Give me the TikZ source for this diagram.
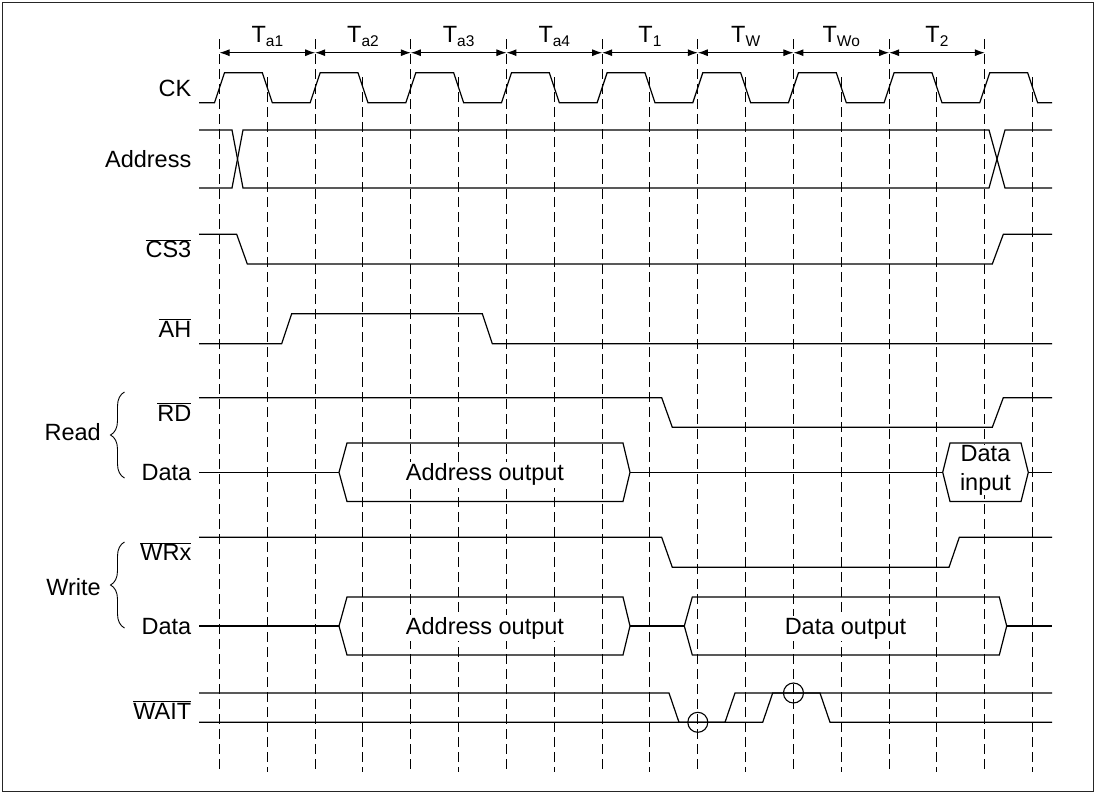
\documentclass[tikz,border=0pt]{standalone}
\usepackage{fontspec}
\setmainfont{Liberation Sans}
\usetikzlibrary{arrows.meta,decorations.pathreplacing}

\newcommand{\tx}[1]{219.5+47.83*(#1)}
\newcommand{\ovl}[1]{$\overline{\mbox{#1}}$}
\newcommand{\Tlab}[1]{T\raisebox{-3.3pt}{\fontsize{15.5}{16}\selectfont #1}}

\begin{document}
\begin{tikzpicture}[
      x=1pt, y=-1pt,
      wave/.style  = {line width=1.2pt, line join=miter},
      guide/.style = {line width=1pt, dash pattern=on 10pt off 5pt},
      arrow/.style = {{Latex[length=10pt,width=7pt]}-{Latex[length=10pt,width=7pt]},
                      line width=1pt},
      curly/.style = {decorate, decoration={brace, amplitude=14pt},
                      line width=0.9pt},
      sig/.style   = {anchor=base east},
      label/.style = {fill=white, inner sep=2pt},
      every node/.style = {font=\fontsize{23.5}{29}\selectfont, inner sep=0pt}
    ]
    \useasboundingbox (0,0) rectangle (1098,793);
    \draw[line width=1.2pt, black!85] (2.5,2.5) rectangle (1093.5,791.5);

    % guide lines and periods
    \foreach \i in {0,2,...,16}
      \draw[guide] ({\tx{\i}},39) -- ({\tx{\i}},770);
    \foreach \i in {1,3,...,17}
      \draw[guide] ({\tx{\i}},77) -- ({\tx{\i}},772);
    \foreach \k in {0,...,8}
      \coordinate (p\k) at ({\tx{2*\k}},52.7);
    \foreach \k/\lab in {0/a1,1/a2,2/a3,3/a4,4/1,5/W,6/Wo,7/2}{
      \pgfmathtruncatemacro{\n}{\k+1}
      \draw[arrow] (p\k) -- (p\n);
      \node[anchor=base] (per\k) at ({\tx{2*\k+1}},42.7) {\Tlab{\lab}};
    }

    % signal names
    \node[sig] (ck)   at (191.5,96.2)  {CK};
    \node[sig] (addr) at (191.5,167.3) {Address};
    \node[sig] (cs)   at (191.5,257.7) {\ovl{CS3}};
    \node[sig] (ah)   at (191.5,337.2) {\ovl{AH}};
    \node[sig] (rd)   at (191.5,421)   {\ovl{RD}};
    \node[sig] (rdat) at (191.5,480.8) {Data};
    \node[sig] (wr)   at (191.5,560.8) {\ovl{WRx}};
    \node[sig] (wdat) at (191.5,634.5) {Data};
    \node[sig] (wait) at (191.5,719)   {\ovl{WAIT}};
    \node[anchor=east] (rdgrp) at (101,432) {Read};
    \node[anchor=east] (wrgrp) at (101,587) {Write};
    \draw[curly] (124.5,478) -- (124.5,392);
    \draw[curly] (124.5,628) -- (124.5,542);

    % CK
    \draw[wave] (199,102.7)
      \foreach \k in {0,...,8}{
        -- ({\tx{2*\k}-5},102.7) -- ({\tx{2*\k}+5},72.7)
        -- ({\tx{2*\k+1}-5},72.7) -- ({\tx{2*\k+1}+5},102.7) }
      -- (1052,102.7);

    % Address
    \draw[wave] (199,130) -- (232,130) -- (243,188) -- (989,188)
                -- (1005,130) -- (1052,130);
    \draw[wave] (199,188) -- (232,188) -- (243,130) -- (989,130)
                -- (1005,188) -- (1052,188);

    % CS3, AH
    \draw[wave] (199,234.3) -- (236.7,234.3) -- (247.3,264) -- (992.3,264)
                -- (1003.3,234.3) -- (1052,234.3);
    \draw[wave] (199,343.7) -- (281.7,343.7) -- (291.7,313.7) -- (482.3,313.7)
                -- (492.3,343.7) -- (1052,343.7);

    % Read
    \draw[wave] (199,397.7) -- (661.7,397.7) -- (672.3,427.3) -- (992.3,427.3)
                -- (1003.3,397.7) -- (1052,397.7);
    \draw[wave] (199,472.3) -- (339,472.3);
    \draw[wave] (339,472.3) -- (347,443) -- (623,443) -- (630,472.3)
                -- (623,501.5) -- (347,501.5) -- cycle;
    \node[label, anchor=base] (rdaddr) at (485,480.8) {Address output};
    \draw[wave] (630,472.3) -- (942.7,472.3);
    \draw[wave] (942.7,472.3) -- (950,443) -- (1021,443) -- (1028.3,472.3)
                -- (1021,501.5) -- (950,501.5) -- cycle;
    \node[label, align=center, inner sep=0pt] (rdin) at (985.5,470.3) {Data\\input};
    \draw[wave] (1028.3,472.3) -- (1052,472.3);

    % Write
    \draw[wave] (199,537.3) -- (661.7,537.3) -- (672.3,567.3) -- (949,567.3)
                -- (959.3,537.3) -- (1052,537.3);
    \draw[wave] (199,626) -- (339,626);
    \draw[wave] (339,626) -- (347,597) -- (623,597) -- (630,626)
                -- (623,655) -- (347,655) -- cycle;
    \node[label, anchor=base] (wraddr) at (485,634.5) {Address output};
    \draw[wave] (630,626) -- (684.3,626);
    \draw[wave] (684.3,626) -- (692.3,597) -- (999.3,597) -- (1006.7,626)
                -- (999.3,655) -- (692.3,655) -- cycle;
    \node[label, anchor=base] (wrout) at (845.5,634.5) {Data output};
    \draw[wave] (1006.7,626) -- (1052,626);

    % WAIT
    \draw[wave] (199,693) -- (669,693) -- (679,722.3) -- (762.7,722.3)
                -- (772.7,693) -- (820,693) -- (830,722.3) -- (1052,722.3);
    \draw[wave] (199,722.3) -- (725,722.3) -- (735,693) -- (1052,693);
    \draw[line width=1.1pt] ({\tx{10}},722.3) circle[radius=10];
    \draw[line width=1.1pt] ({\tx{12}},693) circle[radius=10];
  \end{tikzpicture}
\end{document}
